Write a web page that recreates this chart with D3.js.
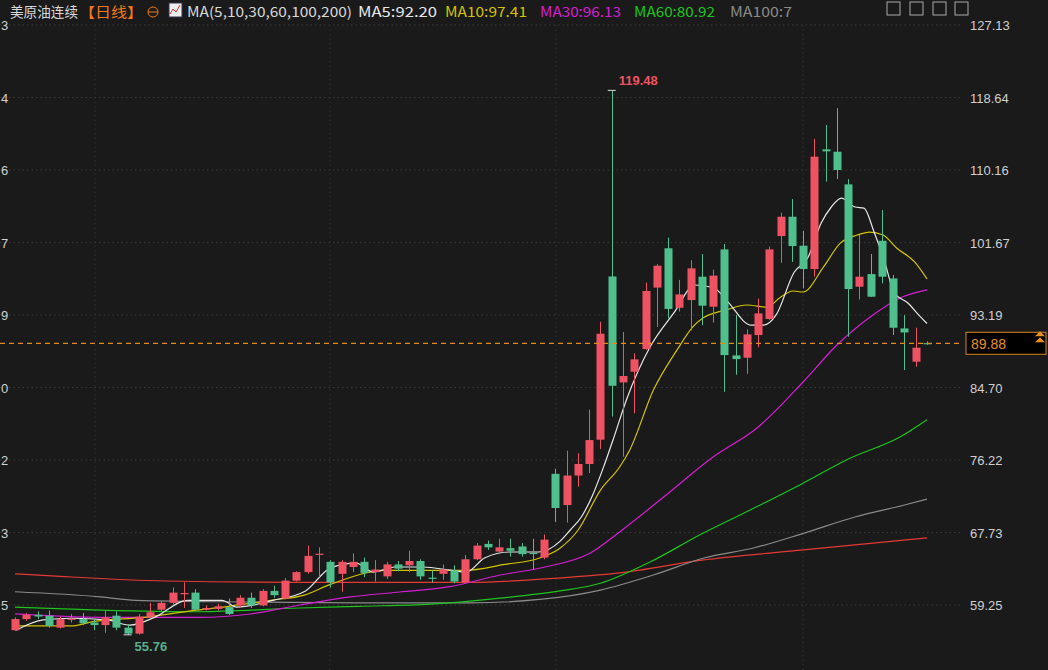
<!DOCTYPE html>
<html><head><meta charset="utf-8">
<script src="https://cdn.jsdelivr.net/npm/d3@7/dist/d3.min.js"></script>
<style>body{margin:0;background:#1a1a1a;}svg{display:block;font-family:"Liberation Sans",Arial,sans-serif;}</style>
</head><body><svg id="c" width="1048" height="670"></svg>
<script>
// [open, high, low, close]
const candles = [
[56.3,57.8,56.2,57.6],[57.6,58.3,57.4,58.1],[58.1,58.5,57.6,57.9],[58.0,58.6,56.6,56.8],[56.6,57.9,56.5,57.6],
[57.6,58.2,57.2,57.65],[57.6,58.3,56.9,57.1],[57.2,57.5,56.3,56.9],[56.9,58.6,56.0,57.8],[58.0,58.5,56.3,56.6],
[56.6,57.0,55.76,55.9],[55.9,58.2,55.8,57.9],[57.9,59.5,57.8,58.4],[58.7,59.7,58.5,59.5],[59.5,61.3,59.3,60.7],
[60.55,61.9,58.9,60.65],[60.7,61.1,58.6,58.7],[58.7,59.2,58.6,58.9],[58.8,59.4,58.6,59.1],[59.0,60.0,58.1,58.2],
[59.2,60.4,59.0,60.1],[60.1,60.7,58.9,59.2],[59.2,61.1,59.1,60.9],[60.9,61.5,60.1,60.4],[60.0,62.4,59.9,62.1],
[62.1,63.2,62.0,63.1],[63.1,66.2,62.9,65.0],[65.15,66.0,62.5,65.25],[64.3,64.5,61.3,61.9],[62.9,64.5,60.8,64.3],
[63.7,65.3,63.1,64.3],[64.3,64.8,62.5,63.0],[63.1,64.5,62.0,63.4],[62.6,64.3,62.3,64.0],[64.0,64.4,63.2,63.5],
[63.9,65.6,63.1,64.4],[64.4,64.6,62.2,62.6],[62.45,63.3,61.9,62.35],[62.9,64.0,62.2,63.4],[63.3,63.9,61.8,62.0],
[61.9,65.1,61.8,64.6],[64.6,66.5,64.5,66.2],[66.4,66.8,65.7,66.0],[65.5,67.0,65.2,66.0],[65.9,67.0,64.9,65.6],
[66.1,66.5,64.9,65.2],[65.35,67.0,63.4,65.25],[64.8,67.5,64.6,66.9],[74.6,75.2,68.96,70.6],[70.95,77.3,68.9,74.4],
[74.4,77.0,73.1,75.75],[75.75,82.1,74.7,78.55],[78.6,92.4,77.5,91.0],[97.7,119.48,81.3,84.9],[85.3,91.2,76.6,86.05],
[86.55,88.7,81.7,88.0],[89.2,96.97,89.1,96.0],[96.4,99.15,91.8,98.96],[101.0,102.24,92.8,93.9],[94.04,97.3,93.6,95.6],
[94.94,99.6,91.4,98.65],[97.67,100.32,92.0,94.28],[94.16,98.5,92.3,97.8],[100.87,101.5,84.2,88.5],[88.46,93.2,86.2,88.03],
[88.19,91.5,86.3,90.92],[90.84,95.1,89.4,93.38],[92.72,101.2,92.6,100.87],[102.43,105.16,99.3,104.69],[104.69,106.76,99.4,101.26],
[101.3,103.05,96.3,98.57],[98.57,113.8,97.67,111.72],[112.58,115.42,108.8,112.34],[112.3,117.4,109.1,110.16],[108.48,109.1,90.65,96.23],
[96.5,102.55,95.0,97.67],[97.98,100.32,95.3,95.33],[101.88,105.47,96.89,97.67],[97.47,97.87,90.85,91.7],[91.62,93.18,86.75,91.15],
[87.72,91.7,87.13,89.36],[89.9,90.1,89.7,89.86]
];
// moving averages as [candle index, value]
const ma5 = [[0.1,56.3],[2.5,57.5],[5,57.7],[8.2,57.5],[10.2,56.9],[12.4,57.8],[15.3,59.8],[18.4,59.8],[19.7,59.0],[22.9,59.8],[25.8,60.9],[28,63.57],[30.3,64.16],[31.8,63.1],[33.75,63.7],[36.25,63.7],[38.8,63.3],[40.1,63.1],[41.7,64.75],[43.9,65.45],[46.5,65.45],[48.4,66.7],[49.3,68.0],[50.3,69.55],[51.3,72.1],[52.3,75.5],[53.2,78.9],[54.3,83.24],[56.4,89.44],[58.5,93.4],[60.4,96.7],[62.1,96.35],[63.2,94.9],[65.4,92.0],[66.5,92.0],[67.6,93.2],[69.2,98.2],[70.4,99.86],[71.6,103.96],[72.5,105.83],[73.4,106.88],[74.6,105.83],[75.4,105.7],[76.3,102.9],[77.2,99.6],[78.1,95.76],[79.3,94.6],[80.4,93.0],[81,92.2]];
const ma10 = [[0,56.8],[5,56.8],[6.9,57.3],[11.4,57.8],[15.8,58.6],[19,59.1],[22.7,59.8],[25.7,60.4],[27.9,61.6],[33,63.3],[39.9,63.3],[43.5,64.0],[46.6,64.75],[48.4,65.9],[50,68.0],[52,72.7],[53.7,75.4],[54.6,77.4],[56.7,84.4],[58.8,89.1],[60.2,91.8],[61.1,92.84],[63.2,93.8],[65,94.36],[66.8,94.1],[67.9,95.18],[69.1,96.0],[70,95.88],[71.8,98.8],[73.3,101.6],[74.8,102.55],[75.9,102.9],[77.1,102.55],[78.3,101.03],[79.9,99.4],[81,97.41]];
const ma30 = [[0,58.2],[7.6,57.8],[16.4,57.8],[20.9,58.2],[25.3,59.25],[29.8,60.2],[34.2,60.77],[38.6,61.4],[43.1,62.76],[47.1,63.7],[51.1,65.33],[53.7,67.8],[57.5,71.77],[62,76.57],[65.9,79.96],[70,85.35],[73,89.68],[76.2,93.19],[78.6,95.18],[81,96.13]];
const ma60 = [[0,59.0],[7.6,58.66],[16.4,58.46],[25.3,58.9],[30.6,59.1],[36.9,59.36],[43.1,60.06],[48.4,60.9],[52,61.8],[56.4,64.28],[60.8,67.44],[65.3,70.37],[69.7,73.3],[74.2,76.45],[78.6,78.9],[81,80.92]];
const ma100 = [[0,60.8],[7.6,60.2],[10.7,59.8],[21,59.6],[30.6,59.5],[40.4,59.5],[46.6,59.9],[52,61.0],[56.7,62.76],[61.2,64.75],[65.6,65.92],[70.1,67.67],[74.6,69.55],[79,70.95],[81,71.65]];
const ma200 = [[0,62.9],[4,62.6],[13.4,62.06],[25.3,61.9],[40.4,61.9],[48.2,62.4],[53.7,63.0],[61,64.5],[70,65.7],[81,67.1]];
const yTicks = [127.13,118.64,110.16,101.67,93.19,84.70,76.22,67.73,59.25];
const leftStubs = ["3","4","6","7","9","0","2","3","5"];
const lastPrice = 89.88, highMark = 119.48, lowMark = 55.76;

const svg = d3.select("#c");
const W=1048,H=670, plotR=963;
const y = d3.scaleLinear().domain([59.25,127.13]).range([605,25]);
const x = d3.scaleLinear().domain([0,81]).range([15,927]);
const up="#ef5363", dn="#4fc08d";
svg.append("rect").attr("width",W).attr("height",H).attr("fill","#1a1a1a");
// grid
svg.selectAll(".hg").data(yTicks).join("line").attr("x1",0).attr("x2",plotR)
 .attr("y1",d=>y(d)).attr("y2",d=>y(d)).attr("stroke","#3a3a3a").attr("stroke-dasharray","1.5,3");
[95,330,556,803].forEach(v=>svg.append("line").attr("x1",v).attr("x2",v).attr("y1",25).attr("y2",670).attr("stroke","#333").attr("stroke-dasharray","1.5,3"));
// right axis labels
svg.selectAll(".yl").data(yTicks).join("text").attr("x",970).attr("y",d=>y(d)+5)
 .attr("fill","#d0d0d0").attr("font-size",13).text(d=>d.toFixed(2));
svg.selectAll(".ls").data(leftStubs).join("text").attr("x",1).attr("y",(d,i)=>y(yTicks[i])+5)
 .attr("fill","#d0d0d0").attr("font-size",13).text(d=>d);
// MA lines
const line=d3.line().x(d=>x(d[0])).y(d=>y(d[1])).curve(d3.curveMonotoneX);
[[ma200,"#e53935"],[ma100,"#8a8a8a"],[ma60,"#1fc41f"],[ma30,"#d41ed4"],[ma10,"#d2c400"],[ma5,"#e8e8e8"]]
 .forEach(([d,c])=>svg.append("path").attr("d",line(d)).attr("fill","none").attr("stroke",c).attr("stroke-width",1.2));
// candles
const bw=7;
const g=svg.append("g");
candles.forEach((c,i)=>{
  const [o,h,l,cl]=c; const col = cl>=o?up:dn; const cx=Math.round(x(i))+0.5;
  g.append("line").attr("x1",cx).attr("x2",cx).attr("y1",y(h)).attr("y2",y(l)).attr("stroke",col).attr("stroke-width",1);
  const t=y(Math.max(o,cl)), b=y(Math.min(o,cl));
  g.append("rect").attr("x",cx-bw/2-0.5).attr("y",t).attr("width",bw+1).attr("height",Math.max(1.2,b-t)).attr("fill",col);
});
// last price line
svg.append("line").attr("x1",0).attr("x2",plotR).attr("y1",y(lastPrice)).attr("y2",y(lastPrice))
 .attr("stroke","#e08a1e").attr("stroke-dasharray","5,4").attr("stroke-width",1.2);
svg.append("rect").attr("x",966).attr("y",y(lastPrice)-11).attr("width",80).attr("height",22).attr("fill","#000").attr("stroke","#d9851a");
svg.append("text").attr("x",971).attr("y",y(lastPrice)+6).attr("fill","#e8901e").attr("font-size",14).text(lastPrice.toFixed(2));
svg.append("path").attr("d",`M1040,${y(lastPrice)-12} l5,5 h-10 z M1040,${y(lastPrice)-6} l5,5 h-10 z`).attr("fill","#e8901e");
// high/low marks
const hi=53, lo=10;
svg.append("line").attr("x1",x(hi)-4).attr("x2",x(hi)+4).attr("y1",y(highMark)).attr("y2",y(highMark)).attr("stroke","#ddd");
svg.append("text").attr("x",x(hi)+7).attr("y",y(highMark)-5).attr("fill",up).attr("font-size",13).attr("font-weight","bold").text(highMark.toFixed(2));
svg.append("line").attr("x1",x(lo)-4).attr("x2",x(lo)+4).attr("y1",y(lowMark)).attr("y2",y(lowMark)).attr("stroke","#ddd");
svg.append("text").attr("x",x(lo)+7).attr("y",y(lowMark)+16).attr("fill","#5aae8a").attr("font-size",13).attr("font-weight","bold").text(lowMark.toFixed(2));
// header
const hdr=[["美原油连续","#d8d8d8",10,68],["【日线】","#f07a1c",79,64],["MA(5,10,30,60,100,200)","#d8d8d8",187,165],["MA5:92.20","#e8e8e8",358,79],["MA10:97.41","#d2c400",445,82],["MA30:96.13","#d41ed4",540,81],["MA60:80.92","#1fc41f",634,81],["MA100:7","#8a8a8a",730,62]];
hdr.forEach(([t,c,xx,len])=>svg.append("text").attr("x",xx).attr("y",17).attr("fill",c).attr("font-size",14)
  .attr("textLength",len).attr("lengthAdjust","spacingAndGlyphs")
  .attr("font-family",'"Noto Sans CJK SC","Liberation Sans",sans-serif').text(t));
svg.append("circle").attr("cx",153).attr("cy",12).attr("r",5).attr("fill","none").attr("stroke","#f07a1c");
svg.append("line").attr("x1",148).attr("x2",158).attr("y1",12).attr("y2",12).attr("stroke","#f07a1c");
svg.append("rect").attr("x",169).attr("y",3).attr("width",13).attr("height",14).attr("fill","#eee").attr("stroke","#335");
svg.append("path").attr("d","M170,14 l3,-5 3,3 4,-7").attr("fill","none").attr("stroke","#d33");
[887,910,933,955].forEach(v=>svg.append("rect").attr("x",v).attr("y",2).attr("width",13).attr("height",13).attr("fill","none").attr("stroke","#aaa"));
</script></body></html>
